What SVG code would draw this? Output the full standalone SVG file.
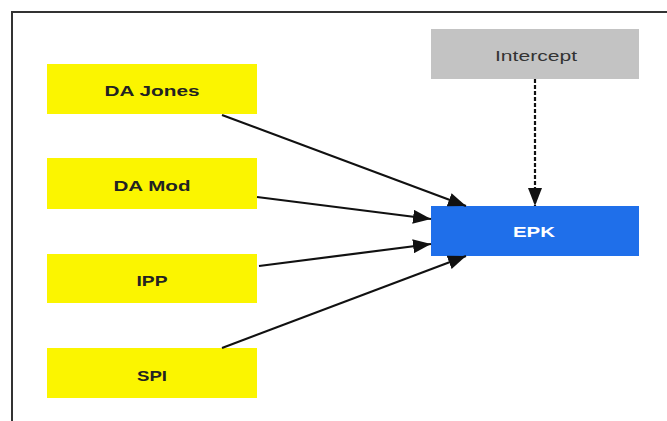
<svg xmlns="http://www.w3.org/2000/svg" width="667" height="421" viewBox="0 0 667 421">
<defs>
<style>
.box{stroke:none}
.y{fill:#fbf500}
.lbl{font-family:"Liberation Sans",Arial,sans-serif;font-size:15px;font-weight:bold;fill:#222;text-anchor:middle;dominant-baseline:central}
.conn{stroke:#111;stroke-width:2.2;fill:none;marker-end:url(#ah)}
</style>
<marker id="ah" viewBox="0 0 18 14" refX="18" refY="7" markerWidth="18" markerHeight="14" markerUnits="userSpaceOnUse" orient="auto">
<path d="M0,0 L18,7 L0,14 z" fill="#111"/>
</marker>
</defs>
<rect width="667" height="421" fill="#fff"/>
<rect x="12" y="12" width="670" height="420" fill="none" stroke="#333" stroke-width="2"/>
<g id="da-jones"><rect class="box y" x="47" y="64" width="210" height="50"/><text class="lbl" x="152" y="90" textLength="95" lengthAdjust="spacingAndGlyphs">DA Jones</text></g>
<g id="da-mod"><rect class="box y" x="47" y="158" width="210" height="51"/><text class="lbl" x="152" y="185" textLength="77" lengthAdjust="spacingAndGlyphs">DA Mod</text></g>
<g id="ipp"><rect class="box y" x="47" y="254" width="210" height="49"/><text class="lbl" x="152" y="280" textLength="31" lengthAdjust="spacingAndGlyphs">IPP</text></g>
<g id="spi"><rect class="box y" x="47" y="348" width="210" height="50"/><text class="lbl" x="152" y="375" textLength="30" lengthAdjust="spacingAndGlyphs">SPI</text></g>
<g id="intercept"><rect class="box" fill="#c3c3c3" x="431" y="29" width="208" height="50"/><text class="lbl" style="font-weight:normal;fill:#333" x="536" y="55" textLength="82" lengthAdjust="spacingAndGlyphs">Intercept</text></g>
<g id="epk"><rect class="box" fill="#1f6fea" x="431" y="206" width="208" height="50"/><text class="lbl" style="fill:#fff" x="534" y="231" textLength="42" lengthAdjust="spacingAndGlyphs">EPK</text></g>
<g id="connectors">
<line class="conn" x1="222" y1="115" x2="466" y2="206"/>
<line class="conn" x1="257" y1="197" x2="431" y2="219"/>
<line class="conn" x1="259" y1="266" x2="431" y2="244"/>
<line class="conn" x1="222" y1="348" x2="466" y2="256"/>
<line class="conn" x1="535" y1="79" x2="535" y2="206" stroke-width="2.6" stroke-dasharray="4,2"/>
</g>
</svg>
